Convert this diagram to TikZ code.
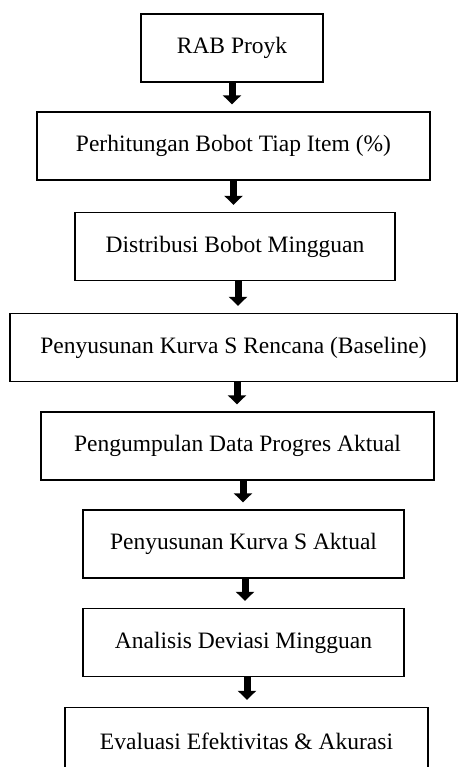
\documentclass[tikz,border=0pt]{standalone}
\usepackage{fontspec}
\setmainfont{Liberation Serif}
\usetikzlibrary{arrows.meta}

\begin{document}
\begin{tikzpicture}[x=0.5pt, y=-0.5pt,
        box/.style={draw, line width=0.7pt, inner sep=0pt, minimum height=34pt,
            font=\fontsize{11.75}{14}\selectfont},
        flow/.style={line width=3.5pt, -{Triangle[width=9pt,length=4.5pt]}, shorten >=3.5pt}]
        \useasboundingbox (0,0) rectangle (458,767);
        \clip (0,0) rectangle (458,767);

        \node[box, minimum width=91pt] (rab) at (232,48) {RAB Proyk};
        \node[box, minimum width=196.5pt] (bobot) at (233.5,146) {Perhitungan Bobot Tiap Item (\%)};
        \node[box, minimum width=160pt] (distribusi) at (235,246.5) {Distribusi Bobot Mingguan};
        \node[box, minimum width=223.5pt] (rencana) at (233.5,347.5) {Penyusunan Kurva S Rencana (Baseline)};
        \node[box, minimum width=196.5pt] (data) at (237.5,446) {Pengumpulan Data Progres Aktual};
        \node[box, minimum width=160.5pt] (aktual) at (243.5,544) {Penyusunan Kurva S Aktual};
        \node[box, minimum width=160.5pt] (deviasi) at (243.5,642.5) {Analisis Deviasi Mingguan};
        \node[box, minimum width=181.5pt] (evaluasi) at (246.5,741.5) {Evaluasi Efektivitas \& Akurasi};

        \draw[flow] (rab.south) -- (rab.south |- bobot.north);
        \draw[flow] (bobot.south) -- (bobot.south |- distribusi.north);
        \draw[flow] ([xshift=1.5pt]distribusi.south) -- ([xshift=1.5pt]distribusi.south |- rencana.north);
        \draw[flow] ([xshift=1.75pt]rencana.south) -- ([xshift=1.75pt]rencana.south |- data.north);
        \draw[flow] ([xshift=2.75pt]data.south) -- ([xshift=2.75pt]data.south |- aktual.north);
        \draw[flow] ([xshift=0.75pt]aktual.south) -- ([xshift=0.75pt]aktual.south |- deviasi.north);
        \draw[flow] ([xshift=1.75pt]deviasi.south) -- ([xshift=1.75pt]deviasi.south |- evaluasi.north);
\end{tikzpicture}
\end{document}
